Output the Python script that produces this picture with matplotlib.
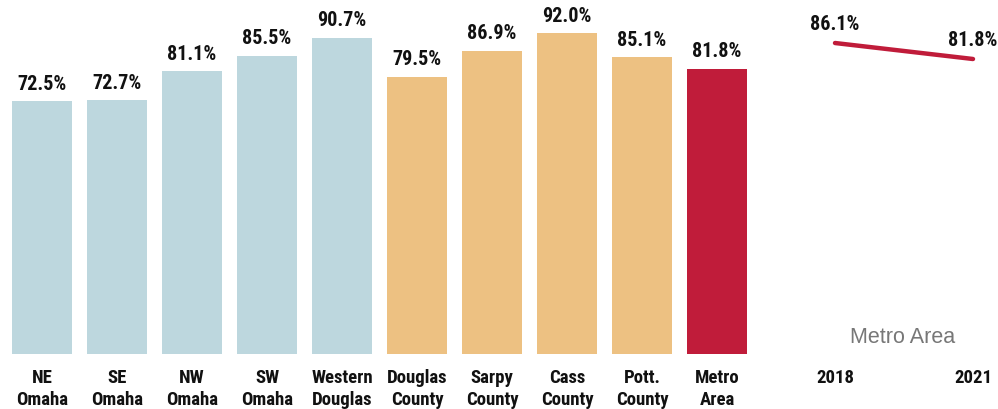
import matplotlib
matplotlib.use("Agg")
import matplotlib.pyplot as plt
from matplotlib import font_manager

# Data
areas = ["NE\nOmaha", "SE\nOmaha", "NW\nOmaha", "SW\nOmaha", "Western\nDouglas",
         "Douglas\nCounty", "Sarpy\nCounty", "Cass\nCounty", "Pott.\nCounty", "Metro\nArea"]
rates = [72.5, 72.7, 81.1, 85.5, 90.7, 79.5, 86.9, 92.0, 85.1, 81.8]
groups = ["omaha"] * 5 + ["county"] * 4 + ["metro"]

years = [2018, 2021]
metro_rates = [86.1, 81.8]

palette = {"omaha": "#BDD7DE", "county": "#EDC182", "metro": "#C01C3A"}

# Pick a narrow sans face for the bold labels
available = {f.name for f in font_manager.fontManager.ttflist}
narrow = next((n for n in ["Liberation Sans Narrow", "Arial Narrow", "Roboto Condensed",
                           "Archivo Narrow", "Barlow Semi Condensed", "Liberation Sans"]
               if n in available), "DejaVu Sans")

W, H = 998, 410
fig = plt.figure(figsize=(W / 100, H / 100), dpi=100)

# Bar panel
base_px = 355
ax = fig.add_axes([0, (H - base_px) / H, 757 / W, base_px / H])
xs = list(range(len(areas)))
ax.bar(xs, rates, width=0.8, color=[palette[g] for g in groups])
ax.set_xlim(-42 / 75, (757 - 42) / 75)
ax.set_ylim(0, 101.75)
for x, v in zip(xs, rates):
    ax.annotate(f"{v:.1f}%", (x, v), xytext=(0, 6), textcoords="offset points",
                ha="center", va="bottom", fontsize=14.5, fontweight="bold",
                family=narrow, color="#111111")
ax.set_xticks(xs)
ax.set_xticklabels(areas, fontsize=13.5, fontweight="bold", family=narrow,
                   color="#111111", linespacing=1.3)
ax.tick_params(axis="x", length=0, pad=10)
ax.set_yticks([])
for s in ax.spines.values():
    s.set_visible(False)

# Trend panel
lx = fig.add_axes([800 / W, (H - base_px) / H, 198 / W, base_px / H])
lx.plot(years, metro_rates, color=palette["metro"], lw=3.2, solid_capstyle="round")
lx.set_xlim(2018 - 35 / 46, 2021 + 25 / 46)
lx.set_ylim(2.5, 2.5 + 355 / 3.72)
for x, v in zip(years, metro_rates):
    lx.annotate(f"{v:.1f}%", (x, v), xytext=(0, 7), textcoords="offset points",
                ha="center", va="bottom", fontsize=14.5, fontweight="bold",
                family=narrow, color="#111111")
lx.set_xticks(years)
lx.set_xticklabels([str(y) for y in years], fontsize=13.5, fontweight="bold",
                   family=narrow, color="#111111")
lx.tick_params(axis="x", length=0, pad=10)
lx.set_yticks([])
for s in lx.spines.values():
    s.set_visible(False)
lx.text(0.52, 0.05, "Metro Area", transform=lx.transAxes, ha="center", va="center",
        fontsize=15.5, family="Liberation Sans", color="#777777")

fig.savefig("out.png", dpi=100)
